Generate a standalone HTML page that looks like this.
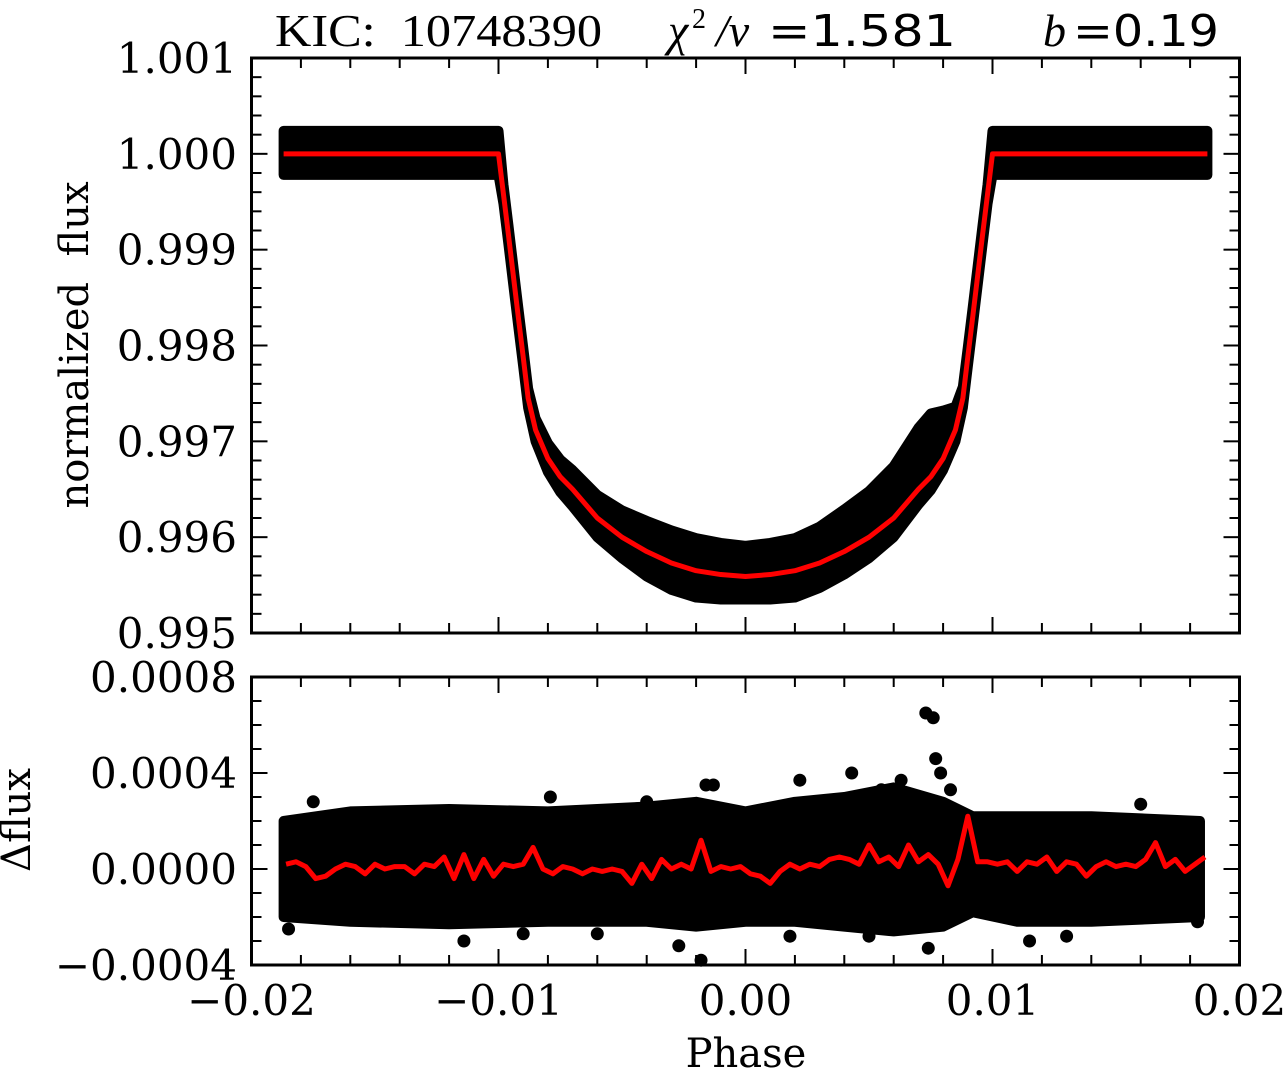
<!DOCTYPE html>
<html><head><meta charset="utf-8"><style>
html,body{margin:0;padding:0;background:#fff}
svg{display:block}
text{font-family:"DejaVu Serif","Liberation Serif",serif;fill:#000;white-space:pre}
</style></head><body>
<svg id="chart" width="1288" height="1075" viewBox="0 0 1288 1075" xmlns="http://www.w3.org/2000/svg">
<g id="title">
 <text x="275" y="46" font-size="46" textLength="327" lengthAdjust="spacingAndGlyphs" style="font-family:'Liberation Serif',serif">KIC:  10748390</text>
 <text x="668" y="46" font-size="46" style="font-family:'Liberation Serif',serif;font-style:italic">χ</text>
 <text x="692" y="28" font-size="28" style="font-family:'Liberation Serif',serif">2</text>
 <text x="716" y="46" font-size="46" style="font-family:'Liberation Serif',serif;font-style:italic">/ν</text>
 <text x="768" y="46" font-size="44" textLength="188" lengthAdjust="spacingAndGlyphs" style="font-family:'DejaVu Sans',sans-serif">=1.581</text>
 <text x="1043" y="46" font-size="46" style="font-family:'Liberation Serif',serif;font-style:italic">b</text>
 <text x="1073" y="46" font-size="44" textLength="146" lengthAdjust="spacingAndGlyphs" style="font-family:'DejaVu Sans',sans-serif">=0.19</text>
</g>
<g id="topPanel"></g>
<g id="botPanel"></g>
<g id="frames"></g>
<text x="88" y="345" font-size="40" text-anchor="middle" transform="rotate(-90 88 345)">normalized  flux</text>
<text x="30" y="820" font-size="40" text-anchor="middle" transform="rotate(-90 30 820)">Δflux</text>
<text x="746" y="1067" font-size="40" text-anchor="middle">Phase</text>
</svg>
<script>
// ---- data ----
const modelPhase = [-0.0187,-0.0100,-0.0098,-0.0096,-0.0094,-0.0092,-0.0090,-0.0088,-0.0085,-0.0080,-0.0075,-0.0070,-0.0060,-0.0050,-0.0040,-0.0030,-0.0020,-0.0010,0,0.0010,0.0020,0.0030,0.0040,0.0050,0.0060,0.0070,0.0075,0.0080,0.0085,0.0088,0.0090,0.0092,0.0094,0.0096,0.0098,0.0100,0.0187];
const modelFlux = [1.0,1.0,0.99958,0.99916,0.99873,0.99830,0.99788,0.99745,0.99712,0.99682,0.99663,0.99650,0.99620,0.99600,0.99585,0.99573,0.99565,0.99561,0.99559,0.99561,0.99565,0.99573,0.99585,0.99600,0.99620,0.99650,0.99663,0.99682,0.99712,0.99745,0.99788,0.99830,0.99873,0.99916,0.99958,1.0,1.0];
const fluxUpper = [0.00024,0.00024,0.00010,0.00010,0.00010,0.00010,0.00010,0.00010,0.00012,0.00016,0.00018,0.00020,0.00024,0.00028,0.00032,0.00034,0.00034,0.00033,0.00032,0.00033,0.00034,0.00038,0.00044,0.00048,0.00054,0.00064,0.00066,0.00050,0.00024,0.00012,0.00010,0.00010,0.00010,0.00010,0.00010,0.00024,0.00024];
const fluxLower = [0.00022,0.00022,0.00010,0.00010,0.00010,0.00010,0.00010,0.00010,0.00012,0.00014,0.00016,0.00018,0.00020,0.00022,0.00026,0.00028,0.00028,0.00026,0.00024,0.00026,0.00028,0.00026,0.00024,0.00022,0.00020,0.00016,0.00014,0.00012,0.00012,0.00010,0.00010,0.00010,0.00010,0.00010,0.00010,0.00022,0.00022];
const resEnvPhase = [-0.0187,-0.016,-0.012,-0.008,-0.004,-0.002,0.000,0.002,0.004,0.006,0.008,0.0092,0.011,0.014,0.0184];
const resEnvUp = [0.00020,0.00024,0.00025,0.00024,0.00026,0.00028,0.00024,0.00028,0.00030,0.00034,0.00028,0.00022,0.00022,0.00022,0.00020];
const resEnvLo = [-0.00020,-0.00022,-0.00023,-0.00022,-0.00022,-0.00024,-0.00022,-0.00022,-0.00024,-0.00026,-0.00024,-0.00018,-0.00022,-0.00022,-0.00020];
const outPhase = [0.0073,0.0076,0.0077,0.0079,0.0063,0.0022,-0.0013,-0.0016,0.0055,0.0043,-0.0018,-0.0027,0.0074,-0.0114,0.0115,-0.0079,0.0083,-0.0040,0.0050,-0.0060,0.0018,-0.0185,-0.0175,0.0160,0.0183,-0.0090,0.0130];
const outRes = [0.00065,0.00063,0.00046,0.00040,0.00037,0.00037,0.00035,0.00035,0.00033,0.00040,-0.00038,-0.00032,-0.00033,-0.00030,-0.00030,0.00030,0.00033,0.00028,-0.00028,-0.00027,-0.00028,-0.00025,0.00028,0.00027,-0.00022,-0.00027,-0.00028];
const resPhase = [];
for (let i=0;i<=93;i++) resPhase.push(-0.0186+i*0.0004);
const resLine = [0.00002,0.00003,0.00001,-0.00004,-0.00003,0.00000,0.00002,0.00001,-0.00002,0.00002,
0.00000,0.00001,0.00001,-0.00002,0.00002,0.00001,0.00005,-0.00004,0.00006,-0.00004,
0.00004,-0.00003,0.00002,0.00001,0.00002,0.00009,0.00000,-0.00002,0.00001,0.00000,
-0.00002,0.00000,-0.00001,0.00000,-0.00001,-0.00006,0.00002,-0.00004,0.00004,0.00000,
0.00002,0.00000,0.00012,-0.00001,0.00001,0.00000,0.00001,-0.00002,-0.00003,-0.00006,
-0.00001,0.00002,0.00000,0.00002,0.00001,0.00004,0.00005,0.00004,0.00002,0.00010,
0.00003,0.00005,0.00001,0.00010,0.00003,0.00006,0.00002,-0.00007,0.00004,0.00022,
0.00003,0.00003,0.00002,0.00003,-0.00001,0.00003,0.00002,0.00005,-0.00001,0.00003,
0.00002,-0.00003,0.00001,0.00003,0.00001,0.00002,0.00001,0.00004,0.00011,0.00001,
0.00004,-0.00001,0.00002,0.00005];
const xTicks = [-0.02,-0.01,0.00,0.01,0.02];
const xTickLabels = ["−0.02","−0.01","0.00","0.01","0.02"];
const topTicks = [1.001,1.000,0.999,0.998,0.997,0.996,0.995];
const topTickLabels = ["1.001","1.000","0.999","0.998","0.997","0.996","0.995"];
const botTicks = [0.0008,0.0004,0.0,-0.0004];
const botTickLabels = ["0.0008","0.0004","0.0000","−0.0004"];

// ---- scales ----
const L=251.5,R=1239.5,T1=58,B1=633,T2=677,B2=965;
const X = p => L + (p+0.02)/0.04*(R-L);
const Y1 = f => T1 + (1.001-f)/0.006*(B1-T1);
const Y2 = r => T2 + (0.0008-r)/0.0012*(B2-T2);
const NS="http://www.w3.org/2000/svg";
function mk(tag, parent, attrs){const e=document.createElementNS(NS,tag);for(const k in attrs)e.setAttribute(k,attrs[k]);parent.appendChild(e);return e;}
const topG=document.getElementById('topPanel'), botG=document.getElementById('botPanel'), fr=document.getElementById('frames');

// top scatter band
let up=[],lo=[];
modelPhase.forEach((p,i)=>{up.push(X(p)+','+Y1(modelFlux[i]+fluxUpper[i]));lo.unshift(X(p)+','+Y1(modelFlux[i]-fluxLower[i]));});
const band=mk('polygon',topG,{points:up.concat(lo).join(' '),fill:'#000',stroke:'#000','stroke-width':10,'stroke-linejoin':'round'});


const model=mk('polyline',topG,{points:modelPhase.map((p,i)=>X(p)+','+Y1(modelFlux[i])).join(' '),fill:'none',stroke:'#ff0000','stroke-width':5,'stroke-linejoin':'round'});



// residual band
up=[];lo=[];
resEnvPhase.forEach((p,i)=>{up.push(X(p)+','+Y2(resEnvUp[i]));lo.unshift(X(p)+','+Y2(resEnvLo[i]));});
const rb=mk('polygon',botG,{points:up.concat(lo).join(' '),fill:'#000',stroke:'#000','stroke-width':10,'stroke-linejoin':'round'});


outPhase.forEach((p,i)=>{
 const c=mk('circle',botG,{cx:X(p),cy:Y2(outRes[i]),r:6.5,fill:'#000'});
 
 
});
const rl=mk('polyline',botG,{points:resPhase.map((p,i)=>X(p)+','+Y2(resLine[i])).join(' '),fill:'none',stroke:'#ff0000','stroke-width':5,'stroke-linejoin':'round'});



// frames & ticks
function frame(t,b,name){
 const r=mk('rect',fr,{x:L,y:t,width:R-L,height:b-t,fill:'none',stroke:'#000','stroke-width':3});
 
 
 for(let i=0;i<=20;i++){const p=-0.02+i*0.002;const x=X(p);const len=(i%5===0)?16:10;
  mk('line',fr,{x1:x,y1:b,x2:x,y2:b-len,stroke:'#000','stroke-width':2});
  mk('line',fr,{x1:x,y1:t,x2:x,y2:t+len,stroke:'#000','stroke-width':2});}
}
frame(T1,B1,'flux-panel-frame');frame(T2,B2,'residual-panel-frame');
for(let i=0;i<=30;i++){const y=T1+i*(B1-T1)/30;const len=(i%5===0)?16:10;
 mk('line',fr,{x1:L,y1:y,x2:L+len,y2:y,stroke:'#000','stroke-width':2});
 mk('line',fr,{x1:R,y1:y,x2:R-len,y2:y,stroke:'#000','stroke-width':2});}
for(let i=0;i<=12;i++){const y=T2+i*(B2-T2)/12;const len=(i%4===0)?16:10;
 mk('line',fr,{x1:L,y1:y,x2:L+len,y2:y,stroke:'#000','stroke-width':2});
 mk('line',fr,{x1:R,y1:y,x2:R-len,y2:y,stroke:'#000','stroke-width':2});}
topTicks.forEach((v,i)=>{const t=mk('text',fr,{x:237,y:Y1(v)+15,'font-size':42,'text-anchor':'end'});t.textContent=topTickLabels[i];
 
 });
botTicks.forEach((v,i)=>{const t=mk('text',fr,{x:237,y:Y2(v)+15,'font-size':42,'text-anchor':'end'});t.textContent=botTickLabels[i];
 
 });
xTicks.forEach((v,i)=>{const t=mk('text',fr,{x:X(v),y:1015,'font-size':42,'text-anchor':'middle'});t.textContent=xTickLabels[i];
 
 });
</script>
</body></html>
